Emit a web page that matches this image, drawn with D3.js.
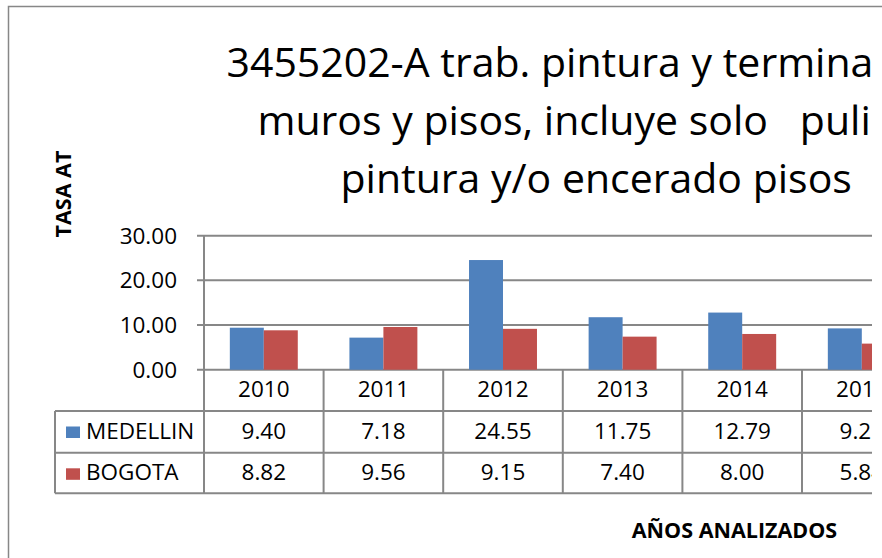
<!DOCTYPE html>
<html>
<head>
<meta charset="utf-8">
<script src="https://cdn.jsdelivr.net/npm/d3@7"></script>
<style>
  body { margin: 0; background: #fff; }
  svg { display: block; font-family: "Open Sans", sans-serif; }
</style>
</head>
<body>
<div id="chart"></div>
<script>
// Chart data
var years = ["2010", "2011", "2012", "2013", "2014", "2015"];
var seriesNames = ["MEDELLIN", "BOGOTA"];
var medellin = [9.40, 7.18, 24.55, 11.75, 12.79, 9.25];
var bogota = [8.82, 9.56, 9.15, 7.40, 8.00, 5.84];
var yTicks = [0, 10, 20, 30];
var titleLines = [
  "3455202-A trab. pintura y terminación",
  "muros y pisos, incluye solo   pulido,",
  "pintura y/o encerado pisos"
];

var colors = { MEDELLIN: "#4f81bd", BOGOTA: "#c0504d" };
var lineColor = "#878787";

var svgWidth = 882;
var svgHeight = 558;

var svg = d3.select("#chart")
  .append("svg")
  .attr("width", svgWidth)
  .attr("height", svgHeight);

// outer chart border (runs off the picture to the right and bottom)
svg.append("rect")
  .attr("x", 8.5)
  .attr("y", 6.5)
  .attr("width", 1200)
  .attr("height", 600)
  .attr("fill", "#fff")
  .attr("stroke", lineColor)
  .attr("stroke-width", 1.5);

// everything else is cut off at x = 872, like the source picture
svg.append("clipPath")
  .attr("id", "cut")
  .append("rect")
  .attr("x", 0).attr("y", 0)
  .attr("width", 872).attr("height", svgHeight);

var g = svg.append("g").attr("clip-path", "url(#cut)");

// Title
g.append("g").selectAll("text")
  .data(titleLines)
  .join("text")
  .attr("x", (d, i) => [226.5, 257.5, 340.5][i])
  .attr("y", (d, i) => 77 + i * 58.2)
  .attr("font-size", "41px")
  .attr("fill", "#000")
  .attr("xml:space", "preserve")
  .style("white-space", "pre")
  .text(d => d);

// Scales
var plotLeft = 204;
var step = 119.6;
var x0 = d3.scaleBand()
  .domain(years)
  .range([plotLeft, plotLeft + step * years.length]);

var x1 = d3.scaleBand()
  .domain(seriesNames)
  .range([0, x0.bandwidth()])
  .paddingOuter(0.76);

var y = d3.scaleLinear()
  .domain([0, 30])
  .range([369.7, 235.7]);

var fmt = d3.format(".2f");
var plotRight = x0.range()[1];

// gridlines (with the short tick stubs on the left)
g.append("g").selectAll("line")
  .data(yTicks)
  .join("line")
  .attr("x1", plotLeft - 7)
  .attr("x2", plotRight)
  .attr("y1", d => y(d))
  .attr("y2", d => y(d))
  .attr("stroke", lineColor)
  .attr("stroke-width", 2);

// y axis line
g.append("line")
  .attr("x1", plotLeft).attr("x2", plotLeft)
  .attr("y1", y(30)).attr("y2", y(0))
  .attr("stroke", lineColor)
  .attr("stroke-width", 2);

// y tick labels
g.append("g").selectAll("text")
  .data(yTicks)
  .join("text")
  .attr("x", 177)
  .attr("y", d => y(d) + 7.8)
  .attr("text-anchor", "end")
  .attr("font-size", "22.5px")
  .attr("fill", "#000")
  .text(d => fmt(d));

// Bars
var rows = years.map((yr, i) => ({ year: yr, MEDELLIN: medellin[i], BOGOTA: bogota[i] }));

g.append("g").selectAll("g")
  .data(rows)
  .join("g")
  .attr("transform", d => `translate(${x0(d.year)},0)`)
  .selectAll("rect")
  .data(d => seriesNames.map(s => ({ key: s, value: d[s] })))
  .join("rect")
  .attr("x", d => x1(d.key))
  .attr("width", x1.bandwidth())
  .attr("y", d => y(d.value))
  .attr("height", d => y(0) - y(d.value))
  .attr("fill", d => colors[d.key]);

// Data table below the axis
var rowLines = [y(0), 411, 452.7, 493.3];
var tableLeft = 55;

var table = g.append("g")
  .attr("stroke", lineColor)
  .attr("stroke-width", 2);

// horizontal lines
table.selectAll("line.row")
  .data(rowLines.slice(1))
  .join("line")
  .attr("class", "row")
  .attr("x1", tableLeft).attr("x2", plotRight)
  .attr("y1", d => d).attr("y2", d => d);

// left edge of legend column
table.append("line")
  .attr("x1", tableLeft).attr("x2", tableLeft)
  .attr("y1", rowLines[1]).attr("y2", rowLines[3]);

// column separators
table.selectAll("line.col")
  .data(years.concat(["end"]))
  .join("line")
  .attr("class", "col")
  .attr("x1", (d, i) => plotLeft + i * x0.step())
  .attr("x2", (d, i) => plotLeft + i * x0.step())
  .attr("y1", rowLines[0])
  .attr("y2", rowLines[3]);

// year labels
g.append("g").selectAll("text")
  .data(years)
  .join("text")
  .attr("x", d => x0(d) + x0.bandwidth() / 2)
  .attr("y", 396.7)
  .attr("text-anchor", "middle")
  .attr("font-size", "22.5px")
  .attr("fill", "#000")
  .text(d => d);

// series rows
var rowBase = { MEDELLIN: 438.5, BOGOTA: 480.3 };
var seriesData = { MEDELLIN: medellin, BOGOTA: bogota };

seriesNames.forEach(s => {
  var row = g.append("g");

  row.append("rect")
    .attr("x", 66)
    .attr("y", rowBase[s] - 12)
    .attr("width", 14)
    .attr("height", 11.5)
    .attr("fill", colors[s]);

  row.append("text")
    .attr("x", 86)
    .attr("y", rowBase[s])
    .attr("font-size", "22.5px")
    .attr("fill", "#000")
    .text(s);

  row.selectAll("text.val")
    .data(seriesData[s])
    .join("text")
    .attr("class", "val")
    .attr("x", (d, i) => x0(years[i]) + x0.bandwidth() / 2)
    .attr("y", rowBase[s])
    .attr("text-anchor", "middle")
    .attr("font-size", "22.5px")
    .attr("fill", "#000")
    .text(d => fmt(d));
});

// Axis titles
g.append("text")
  .attr("transform", "translate(70.5, 194) rotate(-90)")
  .attr("text-anchor", "middle")
  .attr("font-size", "21.5px")
  .attr("font-weight", "bold")
  .attr("fill", "#000")
  .text("TASA AT");

g.append("text")
  .attr("x", 734.5)
  .attr("y", 538.3)
  .attr("text-anchor", "middle")
  .attr("font-size", "21.5px")
  .attr("font-weight", "bold")
  .attr("fill", "#000")
  .text("AÑOS ANALIZADOS");
</script>
</body>
</html>
